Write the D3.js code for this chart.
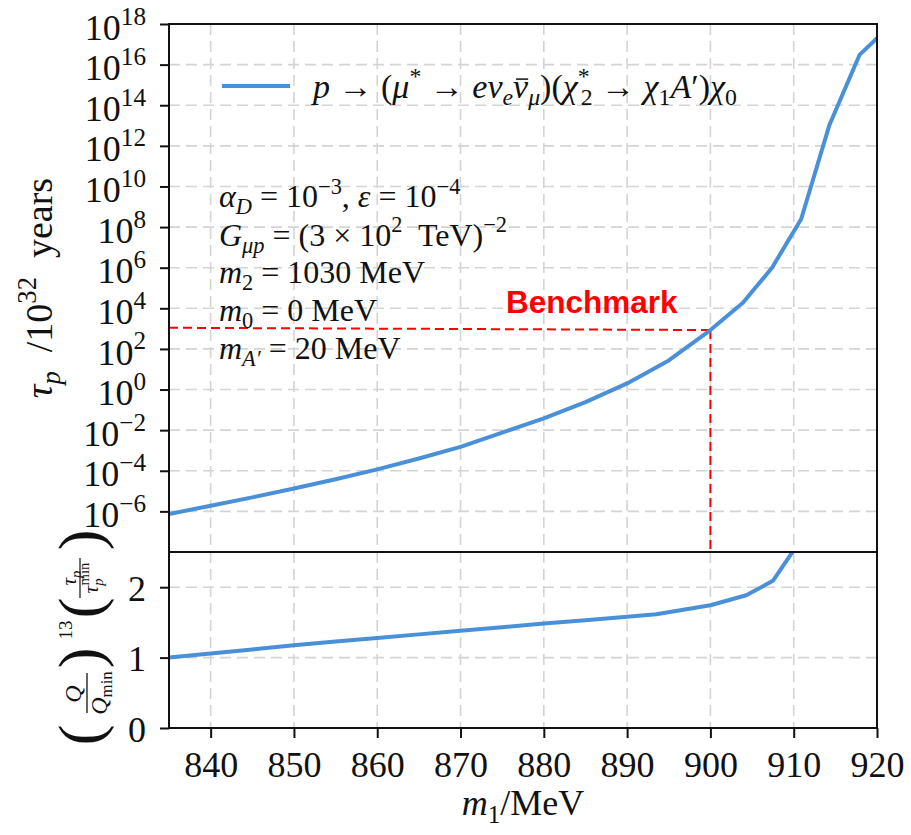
<!DOCTYPE html>
<html>
<head>
<meta charset="utf-8">
<script src="https://cdn.jsdelivr.net/npm/d3@7"></script>
<style>
  body { margin: 0; background: #fff; }
  text { font-family: "Liberation Serif", "DejaVu Serif", serif; white-space: pre; fill: #111; }
</style>
</head>
<body>
<script>
// values
var massGrid = [835, 840, 845, 850, 855, 860, 865, 870, 875, 880, 885, 890, 895, 900, 903.9, 907.4, 910.9, 914.3, 917.9, 920];
var tauLife = [7.4e-7, 1.9e-6, 4.9e-6, 1.35e-5, 3.8e-5, 1.17e-4, 4.0e-4, 1.5e-3, 7.6e-3, 3.8e-2, 0.24, 2.0, 27, 8.5e2, 1.86e4, 1.0e6, 2.5e8, 1.1e13, 3.0e16, 2.0e17];
var ratioMass = [835, 840, 845, 850, 855, 860, 865, 870, 875, 880, 885, 890, 893.5, 900, 904.3, 907.5, 911];
var ratioValue = [1.0, 1.057, 1.115, 1.175, 1.23, 1.28, 1.33, 1.38, 1.43, 1.484, 1.53, 1.58, 1.617, 1.744, 1.886, 2.09, 2.7];
var benchMass = [835, 900];
var benchTau = [1.1e3, 8.5e2];
var xTicks = [840, 850, 860, 870, 880, 890, 900, 910, 920];
var tauTickExp = [-6, -4, -2, 0, 2, 4, 6, 8, 10, 12, 14, 16, 18];
var ratioTicks = [0, 1, 2];

var width = 911, height = 835;
var left = 169, right = 877, topY = 24, mid = 552, bottom = 728;
var blue = "#4a90d9";

var svg = d3.select("body").append("svg")
  .attr("width", width)
  .attr("height", height);

// Escalas
var x = d3.scaleLinear().domain([835, 920]).range([left, right]);
var yTop = d3.scaleLog().domain([1e-8, 1e18]).range([mid, topY]);
var yBot = d3.scaleLinear().domain([0, 2.5]).range([bottom, mid]);

// texto com sub/superescritos ("o" = barra em cima)
var overlined = [];
function addParts(t, parts, size) {
  var cur = 0;
  parts.forEach(function(p) {
    var f = p[1] || "";
    var sup = f.indexOf("^") >= 0, sub = f.indexOf("_") >= 0;
    var shift = sup ? -0.42 * size : (sub ? 0.22 * size : 0);
    var s = t.append("tspan")
      .attr("font-size", (sup || sub) ? size * 0.7 : size)
      .attr("font-style", f.indexOf("i") >= 0 ? "italic" : "normal")
      .text(p[0]);
    if (shift - cur !== 0) s.attr("dy", shift - cur);
    if (p[2]) s.attr("dx", p[2]);
    if (f.indexOf("o") >= 0) overlined.push(s.node());
    cur = shift;
  });
  return t;
}

function exp10(e) {
  return [["10"], [String(e).replace("-", "\u2212"), "^"]];
}

// clip
svg.append("clipPath").attr("id", "clip-top")
  .append("rect").attr("x", left).attr("y", topY).attr("width", right - left).attr("height", mid - topY);
svg.append("clipPath").attr("id", "clip-bot")
  .append("rect").attr("x", left).attr("y", mid).attr("width", right - left).attr("height", bottom - mid);

// grid
var grid = svg.append("g")
  .attr("stroke", "#d4d4d4")
  .attr("stroke-width", 1.6)
  .attr("stroke-dasharray", "11,6");

grid.selectAll(".vgrid-top")
  .data(xTicks.slice(0, -1))
  .enter().append("line")
  .attr("x1", function(d) { return x(d) }).attr("x2", function(d) { return x(d) })
  .attr("y1", topY).attr("y2", mid);

grid.selectAll(".vgrid-bot")
  .data(xTicks.slice(0, -1))
  .enter().append("line")
  .attr("x1", function(d) { return x(d) }).attr("x2", function(d) { return x(d) })
  .attr("y1", mid).attr("y2", bottom);

grid.selectAll(".hgrid-top")
  .data(tauTickExp.slice(0, -1))
  .enter().append("line")
  .attr("x1", left).attr("x2", right)
  .attr("y1", function(d) { return yTop(Math.pow(10, d)) })
  .attr("y2", function(d) { return yTop(Math.pow(10, d)) });

grid.selectAll(".hgrid-bot")
  .data(ratioTicks.slice(1))
  .enter().append("line")
  .attr("x1", left).attr("x2", right)
  .attr("y1", function(d) { return yBot(d) })
  .attr("y2", function(d) { return yBot(d) });

// benchmark
svg.append("path")
  .datum(d3.zip(benchMass, benchTau))
  .attr("d", d3.line().x(function(d) { return x(d[0]) }).y(function(d) { return yTop(d[1]) }))
  .attr("fill", "none")
  .attr("stroke", "#ff0000")
  .attr("stroke-width", 2)
  .attr("stroke-dasharray", "9,5");

svg.append("line")
  .attr("x1", x(benchMass[1])).attr("x2", x(benchMass[1]))
  .attr("y1", yTop(benchTau[1])).attr("y2", yTop.range()[0])
  .attr("stroke", "#ff0000")
  .attr("stroke-width", 2)
  .attr("stroke-dasharray", "9,5");

svg.append("text")
  .text("Benchmark")
  .attr("x", 506)
  .attr("y", 313)
  .style("fill", "#ff0000")
  .style("font-family", "'Liberation Sans', Arial, sans-serif")
  .attr("font-weight", "bold")
  .attr("font-size", 31.5);

// curvas
svg.append("path")
  .datum(d3.zip(massGrid, tauLife))
  .attr("clip-path", "url(#clip-top)")
  .attr("d", d3.line().x(function(d) { return x(d[0]) }).y(function(d) { return yTop(d[1]) }))
  .attr("fill", "none")
  .attr("stroke", blue)
  .attr("stroke-width", 4)
  .attr("stroke-linejoin", "round");

svg.append("path")
  .datum(d3.zip(ratioMass, ratioValue))
  .attr("clip-path", "url(#clip-bot)")
  .attr("d", d3.line().x(function(d) { return x(d[0]) }).y(function(d) { return yBot(d[1]) }))
  .attr("fill", "none")
  .attr("stroke", blue)
  .attr("stroke-width", 4)
  .attr("stroke-linejoin", "round");

// eixos
var axTop = svg.append("g")
  .attr("transform", "translate(" + left + ",0)")
  .call(d3.axisLeft(yTop)
    .tickValues(tauTickExp.map(function(e) { return Math.pow(10, e) }))
    .tickSize(9).tickPadding(14));
axTop.selectAll(".tick text").each(function(d, i) {
  var t = d3.select(this).text(null).attr("dy", "0.42em").attr("font-size", 36);
  addParts(t, exp10(tauTickExp[i]), 36);
});

var axBot = svg.append("g")
  .attr("transform", "translate(" + left + ",0)")
  .call(d3.axisLeft(yBot).tickValues(ratioTicks).tickFormat(d3.format("d")).tickSize(9).tickPadding(14));
axBot.selectAll(".tick text").attr("dy", "0.37em").attr("font-size", 36);

var axX = svg.append("g")
  .attr("transform", "translate(0," + bottom + ")")
  .call(d3.axisBottom(x).tickValues(xTicks).tickSize(10).tickPadding(10));
axX.selectAll(".tick text").attr("y", 49).attr("dy", 0).attr("font-size", 36);

svg.selectAll(".domain").remove();
svg.selectAll(".tick line").attr("stroke", "#111").attr("stroke-width", 2);
svg.selectAll(".tick text").style("font-family", "'Liberation Serif', serif").attr("fill", "#111");

// molduras
[[topY, mid], [mid, bottom]].forEach(function(r) {
  svg.append("rect")
    .attr("x", left).attr("y", r[0])
    .attr("width", right - left).attr("height", r[1] - r[0])
    .attr("fill", "none")
    .attr("stroke", "#111")
    .attr("stroke-width", 2);
});

// legenda
svg.append("line")
  .attr("x1", 222).attr("x2", 290)
  .attr("y1", 86).attr("y2", 86)
  .attr("stroke", blue)
  .attr("stroke-width", 4);

addParts(svg.append("text").attr("x", 313).attr("y", 98).attr("font-size", 34), [
  ["p", "i"], [" \u2192 ("], ["\u03bc", "i"], ["*", "^"], [" \u2192 "], ["e\u03bd", "i"], ["e", "i_"],
  ["\u03bd", "io"], ["\u03bc", "i_"], [")("], ["\u03c7", "i"], ["*", "^"], ["2", "_", -9],
  [" \u2192 "], ["\u03c7", "i"], ["1", "_"], ["A", "i"], ["\u2032"], [")"], ["\u03c7", "i"], ["0", "_"]
], 34);

// parametros
var notes = [
  [["\u03b1", "i"], ["D", "i_"], [" = 10"], ["\u22123", "^"], [", "], ["\u03b5", "i"], [" = 10"], ["\u22124", "^"]],
  [["G", "i"], ["\u03bcp", "i_"], [" = (3 \u00d7 10"], ["2", "^"], ["  TeV)"], ["\u22122", "^"]],
  [["m", "i"], ["2", "_"], [" = 1030 MeV"]],
  [["m", "i"], ["0", "_"], [" = 0 MeV"]],
  [["m", "i"], ["A\u2032", "i_"], [" = 20 MeV"]]
];
var noteBase = [207, 245.5, 283, 321, 359];
notes.forEach(function(parts, i) {
  addParts(svg.append("text").attr("x", 219).attr("y", noteBase[i]).attr("font-size", 32), parts, 32);
});

// barra do antineutrino
overlined.forEach(function(node) {
  var box = node.getExtentOfChar(0);
  svg.append("line")
    .attr("x1", box.x + 3).attr("x2", box.x + box.width)
    .attr("y1", box.y + box.height * 0.3).attr("y2", box.y + box.height * 0.3)
    .attr("stroke", "#111")
    .attr("stroke-width", 1.5);
});

// rotulos dos eixos
addParts(svg.append("text")
  .attr("x", (left + right) / 2).attr("y", 815)
  .attr("text-anchor", "middle").attr("font-size", 36),
  [["m", "i"], ["1", "_"], ["/MeV"]], 36);

addParts(svg.append("text")
  .attr("transform", "translate(52," + ((topY + mid) / 2) + ") rotate(-90)")
  .attr("text-anchor", "middle").attr("font-size", 38),
  [["\u03c4", "i"], ["p", "i_"], ["  /10"], ["32", "^"], ["  years"]], 38);

var ql = svg.append("g").attr("transform", "translate(86," + ((mid + bottom) / 2) + ") rotate(-90)");
function paren(ch, px) {
  ql.append("text").attr("x", px).attr("y", 15).attr("font-size", 62)
    .attr("text-anchor", "middle").text(ch);
}
paren("(", -95);
ql.append("text").attr("x", -54).attr("y", -5).attr("font-size", 24).attr("font-style", "italic")
  .attr("text-anchor", "middle").text("Q");
ql.append("line").attr("x1", -73).attr("x2", -33).attr("y1", 1).attr("y2", 1)
  .attr("stroke", "#111").attr("stroke-width", 1.3);
addParts(ql.append("text").attr("x", -53).attr("y", 21).attr("text-anchor", "middle").attr("font-size", 24),
  [["Q", "i"], ["min", "_"]], 24);
paren(")", -18);
ql.append("text").attr("x", 10).attr("y", -14).attr("font-size", 19)
  .attr("text-anchor", "middle").text("13");
paren("(", 32);
addParts(ql.append("text").attr("x", 62).attr("y", -10).attr("text-anchor", "middle").attr("font-size", 21),
  [["\u03c4", "i"], ["p", "i_"]], 21);
ql.append("line").attr("x1", 42).attr("x2", 82).attr("y1", -6).attr("y2", -6)
  .attr("stroke", "#111").attr("stroke-width", 1.2);
addParts(ql.append("text").attr("x", 62).attr("y", 12).attr("text-anchor", "middle").attr("font-size", 21),
  [["\u03c4", "i"], ["p", "i_"], ["min", "^", -7]], 21);
paren(")", 100);
</script>
</body>
</html>
